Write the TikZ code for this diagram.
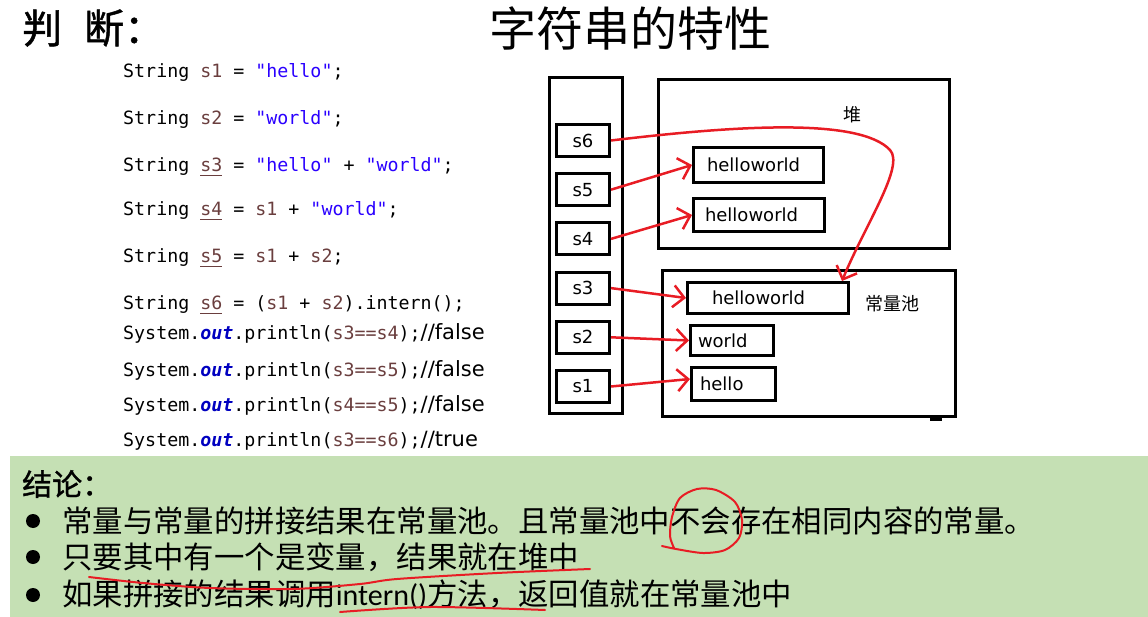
\documentclass[tikz,border=0pt]{standalone}
\usepackage{fontspec}
\usepackage{tikz}
\usetikzlibrary{positioning,arrows.meta}
\newfontfamily\cjk{Noto Sans CJK SC}
\newfontfamily\cjkbold{Noto Sans CJK SC}[FakeBold=1.2]
\newfontfamily\codefont{DejaVu Sans Mono}[Ligatures=TeXOff]
\newfontfamily\labfont{DejaVu Sans}
\newfontfamily\latn{Carlito}
\usepackage{xcolor}
\definecolor{PenRed}{RGB}{232,28,36}
\definecolor{CodeVar}{RGB}{106,62,62}
\definecolor{CodeStr}{RGB}{42,0,255}
\definecolor{CodeField}{RGB}{0,0,192}
\definecolor{NoteGreen}{RGB}{197,224,180}

\newcommand{\cvar}[1]{\textcolor{CodeVar}{#1}}
\newcommand{\cdecl}[1]{\textcolor{CodeVar}{\setbox0\hbox{#1}\rlap{\rule[-4pt]{\wd0}{1.4pt}}\box0}}
\newcommand{\cstr}[1]{\textcolor{CodeStr}{"#1"}}
\newcommand{\cout}{\textcolor{CodeField}{\bfseries\itshape out}}
\newcommand{\cmt}[1]{{\labfont\fontsize{21}{22}\selectfont #1}}

\begin{document}
\begin{tikzpicture}[x=1pt, y=-1pt,
  node distance=14.2pt,
  every node/.style={inner sep=0pt},
  codeline/.style={anchor=base west, font=\codefont\fontsize{18.3}{20}\selectfont},
  region/.style={draw, line width=3pt},
  varbox/.style={draw, line width=3pt, minimum width=53pt, minimum height=32pt, font=\labfont\fontsize{18}{20}\selectfont},
  valbox/.style={draw, line width=3pt, align=left, font=\labfont\fontsize{18}{20}\selectfont},
  memlabel/.style={font=\cjk\fontsize{18}{20}\selectfont},
  ref/.style={PenRed, line width=2.5pt, -{Straight Barb[length=11pt,width=22pt]}},
  pen/.style={PenRed, line width=2pt, line cap=round, line join=round},
  bulletmark/.style={circle, fill, minimum size=14pt},
  noteline/.style={anchor=west, font=\cjk\fontsize{30.4}{32}\selectfont}
]
\useasboundingbox (0,0) rectangle (1148,617);

% Headings
\node[anchor=west, font=\cjkbold\fontsize{40}{44}\selectfont] (judge) at (22,28) {判\hspace{22pt}断：};
\node[font=\cjk\fontsize{47}{50}\selectfont] (title) at (630,28) {字符串的特性};

% Code
\node[codeline] (c1) at (123,78) {String \cvar{s1} = \cstr{hello};};
\node[codeline] (c2) at (123,125) {String \cvar{s2} = \cstr{world};};
\node[codeline] (c3) at (123,172) {String \cdecl{s3} = \cstr{hello} + \cstr{world};};
\node[codeline] (c4) at (123,216) {String \cdecl{s4} = \cvar{s1} + \cstr{world};};
\node[codeline] (c5) at (123,263) {String \cdecl{s5} = \cvar{s1} + \cvar{s2};};
\node[codeline] (c6) at (123,310) {String \cdecl{s6} = (\cvar{s1} + \cvar{s2}).intern();};
\node[codeline] (c7) at (123,340) {System.\cout.println(\cvar{s3==s4});\cmt{//false}};
\node[codeline] (c8) at (123,376) {System.\cout.println(\cvar{s3==s5});\cmt{//false}};
\node[codeline] (c9) at (123,411) {System.\cout.println(\cvar{s4==s5});\cmt{//false}};
\node[codeline] (c10) at (123,446) {System.\cout.println(\cvar{s3==s6});\cmt{//true}};

% Stack with the variables
\node[region, minimum width=73pt, minimum height=336pt] (stack) at (586,245.5) {};
\node[varbox] (s6) at (583,140.5) {s6};
\node[varbox, below=of s6] (s5) {s5};
\node[varbox, below=of s5] (s4) {s4};
\node[varbox, below=of s4] (s3) {s3};
\node[varbox, below=of s3] (s2) {s2};
\node[varbox, below=of s2] (s1) {s1};

% Heap
\node[region, minimum width=291pt, minimum height=169pt] (heap) at (804,164) {};
\node[memlabel] (heaplabel) at (852,115) {堆};
\node[valbox, text width=103pt, inner xsep=13.5pt, minimum height=35pt] (hh1) at (758.5,165) {helloworld};
\node[valbox, text width=108pt, inner xsep=11.5pt, minimum height=33pt] (hh2) at (759,215) {helloworld};

% Constant pool
\node[region, minimum width=293pt, minimum height=146pt] (pool) at (809,343.5) {};
\fill (930,415.5) rectangle (942,420.5);
\node[memlabel] (poollabel) at (892,304) {常量池};
\node[valbox, text width=112pt, inner xsep=24.5pt, minimum height=31pt] (phw) at (768,298) {helloworld};
\node[valbox, text width=68pt, inner xsep=7.5pt, minimum height=30pt] (pw) at (732,340.5) {world};
\node[valbox, text width=67pt, inner xsep=8.5pt, minimum height=33pt] (pe) at (733.5,384) {hello};

% References
\draw[ref] (s6.east) .. controls (740,125) and (860,118) .. (890,150)
  .. controls (905,166) and (865,225) .. ([xshift=-8pt]phw.north east);
\draw[ref] (s5.east) -- (hh1.west);
\draw[ref] (s4.east) -- (hh2.west);
\draw[ref] (s3.east) -- (phw.west);
\draw[ref] (s2.east) -- (pw.west);
\draw[ref] (s1.east) -- ([yshift=5pt]pe.west);

% Conclusion
\fill[NoteGreen] (10,456) rectangle (1148,617);
\node[anchor=west, font=\cjkbold\fontsize{30}{32}\selectfont] (concl) at (22,484) {结论：};
\node[bulletmark] (b1) at (33,521) {};
\node[bulletmark] (b2) at (33,557) {};
\node[bulletmark] (b3) at (33,595) {};
\node[noteline] (n1) at (62,521) {常量与常量的拼接结果在常量池。且常量池中不会存在相同内容的常量。};
\node[noteline] (n2) at (62,557) {只要其中有一个是变量，结果就在堆中};
\node[noteline] (n3) at (62,595) {如果拼接的结果调用{\latn\fontsize{30}{32}\selectfont intern()}方法，返回值就在常量池中};

% Pen marks
\draw[pen] plot[smooth] coordinates {(662,546) (676,549) (703,553) (725,550) (739,538) (742,520) (735,502) (716,490) (697,489) (680,498) (672,517) (670,536) (674,548)};
\draw[pen] plot[smooth] coordinates {(89,577) (143,583) (210,588) (293,589) (360,584) (397,579) (497,573) (590,569)};
\draw[pen] plot[smooth] coordinates {(340,612) (430,607) (545,610)};
\end{tikzpicture}
\end{document}
